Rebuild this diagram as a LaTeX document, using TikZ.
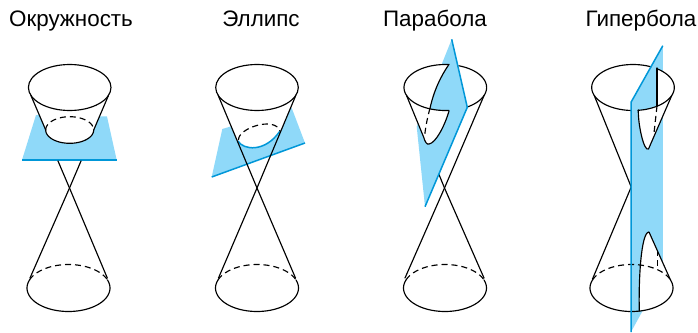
\documentclass[tikz,border=0pt]{standalone}
\usepackage{fontspec}
\setmainfont{Liberation Sans}
\definecolor{planefill}{HTML}{8FD9F9}
\definecolor{planeedge}{HTML}{0097D8}
\newcommand\rimarc[6]{plot[domain=#5:#6,samples=49] ({#1+#3*cos(\x)},{#2+#4*sin(\x)})}
\newcommand\rimto[6]{-- plot[domain=#5:#6,samples=49] ({#1+#3*cos(\x)},{#2+#4*sin(\x)})}
\tikzset{
  coneline/.style={black,line width=1.15pt,line cap=round,line join=round},
  hiddenline/.style={black,line width=1.15pt,dash pattern=on 6pt off 4pt},
  planeshape/.style={fill=planefill,draw=none},
  planerim/.style={planeedge,line width=1.5pt,line cap=butt,line join=round},
  voidshape/.style={fill=white,draw=none},
  caption/.style={anchor=base,font=\fontsize{22.4}{24}\selectfont,inner sep=0pt}
}
\begin{document}
\begin{tikzpicture}[x=1pt,y=-1pt]
\useasboundingbox (0,0) rectangle (698,332);
\node[caption] (t1) at (71,26) {Окружность};
\node[caption] (t2) at (261,26) {Эллипс};
\node[caption] (t3) at (435,26) {Парабола};
\node[caption] (t4) at (641,26) {Гипербола};

% --- circle
\fill[planeshape] (36,115) -- (107,116.5) -- (116.7,160) -- (22,160) -- cycle;
\fill[voidshape] \rimarc{69.7}{87.5}{41.3}{23}{160}{380} -- (93.7,130) \rimto{69.7}{130}{24}{13.3}{0}{180} -- cycle;
\draw[planerim] (22,160) -- (116.7,160);
\draw[coneline] (69.7,87.5) ellipse [x radius=41.3pt,y radius=23pt];
\draw[coneline] (30.9,95.4) -- (45.7,130);
\draw[coneline] (108.5,95.4) -- (93.7,130);
\draw[coneline] \rimarc{69.7}{130}{24}{13.3}{0}{180};
\draw[hiddenline] \rimarc{69.7}{130}{24}{13.3}{180}{360};
\draw[coneline] (58,161) -- (69.5,188) -- (107.3,278);
\draw[coneline] (81,161) -- (69.5,188) -- (30,278);
\draw[coneline] \rimarc{68.5}{288}{41.5}{23.5}{-20}{200};
\draw[hiddenline] \rimarc{68.5}{288}{41.5}{23.5}{200}{340};

% --- ellipse
\fill[planeshape] (222.3,129) -- (291.7,108) -- (305,143) -- (211.7,177) -- cycle;
\fill[voidshape] \rimarc{257}{87.5}{41.3}{23}{160}{380} -- (281,131) .. controls (265,153) and (243,150) .. (237,140) -- cycle;
\draw[planerim] (211.7,177) -- (305,143);
\draw[planerim] (238,141) .. controls (243,150) and (265,153) .. (280,131);
\draw[hiddenline] (238.5,140) .. controls (238,128) and (275,116) .. (280,131);
\draw[coneline] (257,87.5) ellipse [x radius=41.3pt,y radius=23pt];
\draw[coneline] (218.2,95.4) -- (257,188) -- (295.5,278);
\draw[coneline] (295.8,95.4) -- (257,188) -- (218.5,278);
\draw[coneline] \rimarc{257}{288}{41.5}{23.5}{-20}{200};
\draw[hiddenline] \rimarc{257}{288}{41.5}{23.5}{200}{340};

% --- parabola
\fill[planeshape] (451.7,39.3) -- (467.3,107.3) -- (425,206.7) -- (416.7,126.7) -- cycle;
\fill[voidshape] \rimarc{445.3}{87.5}{41.3}{23}{275}{160} -- (423.6,137) .. controls (425,142) and (427,145) .. (429,144) .. controls (436,143) and (445,125) .. (449,111) \rimto{445.3}{87.5}{41.3}{23}{85}{112} .. controls (434,90) and (441,76) .. (449,64.3) -- cycle;
\draw[coneline] \rimarc{445.3}{87.5}{41.3}{23}{275}{85};
\draw[coneline] \rimarc{445.3}{87.5}{41.3}{23}{289}{418};
\draw[coneline] (406.5,95.4) -- (423.6,137) .. controls (425,142) and (427,145) .. (429,144) .. controls (436,143) and (445,125) .. (449,111);
\draw[coneline] (430,108.3) .. controls (434,90) and (441,76) .. (449,64.3);
\draw[hiddenline] (430,108.3) .. controls (427.5,117) and (425.5,127) .. (424.5,137);
\draw[coneline] (484.1,95.4) -- (444.5,188) -- (405,278);
\draw[coneline] (439,174.5) -- (444.5,188) -- (484,278);
\draw[coneline] \rimarc{445}{288}{41.5}{23.5}{-20}{200};
\draw[hiddenline] \rimarc{445}{288}{41.5}{23.5}{200}{340};
\draw[planerim] (451.7,39.3) -- (467.3,107.3) -- (425,206.7);

% --- hyperbola
\fill[planeshape] (662.8,45.7) -- (662.8,274) -- (631,332) -- (631,102.3) -- cycle;
\fill[voidshape] \rimarc{633}{87.5}{41.3}{23}{305}{380} -- (648.5,149) .. controls (644,152) and (638,125) .. (638.3,110) \rimto{633}{87.5}{41.3}{23}{83}{55} -- (657,68) -- cycle;
\fill[voidshape] (649,232) -- (670.5,280) \rimto{631.5}{288}{41.5}{23.5}{340}{439} .. controls (638.5,280) and (641,232) .. (649,232) -- cycle;
\draw[coneline] \rimarc{633}{87.5}{41.3}{23}{296}{93};
\draw[coneline] \rimarc{633}{87.5}{41.3}{23}{305}{443};
\draw[coneline] (594.2,95.4) -- (631.2,187) -- (592.5,279);
\draw[coneline] (671.8,95.4) -- (648.5,149) .. controls (644,152) and (638,125) .. (638.3,110);
\draw[coneline] (657,68) -- (657,106);
\draw[hiddenline] (657,106) -- (654,133);
\draw[coneline] (670.5,280) -- (649,232) .. controls (641,232) and (638.5,280) .. (639.3,311);
\draw[hiddenline] (657.5,250) -- (657.5,266);
\draw[coneline] \rimarc{631.5}{288}{41.5}{23.5}{-20}{200};
\draw[hiddenline] \rimarc{631.5}{288}{41.5}{23.5}{200}{340};
\draw[planerim] (662.8,45.7) -- (631,102.3) -- (631,332);
\end{tikzpicture}
\end{document}
